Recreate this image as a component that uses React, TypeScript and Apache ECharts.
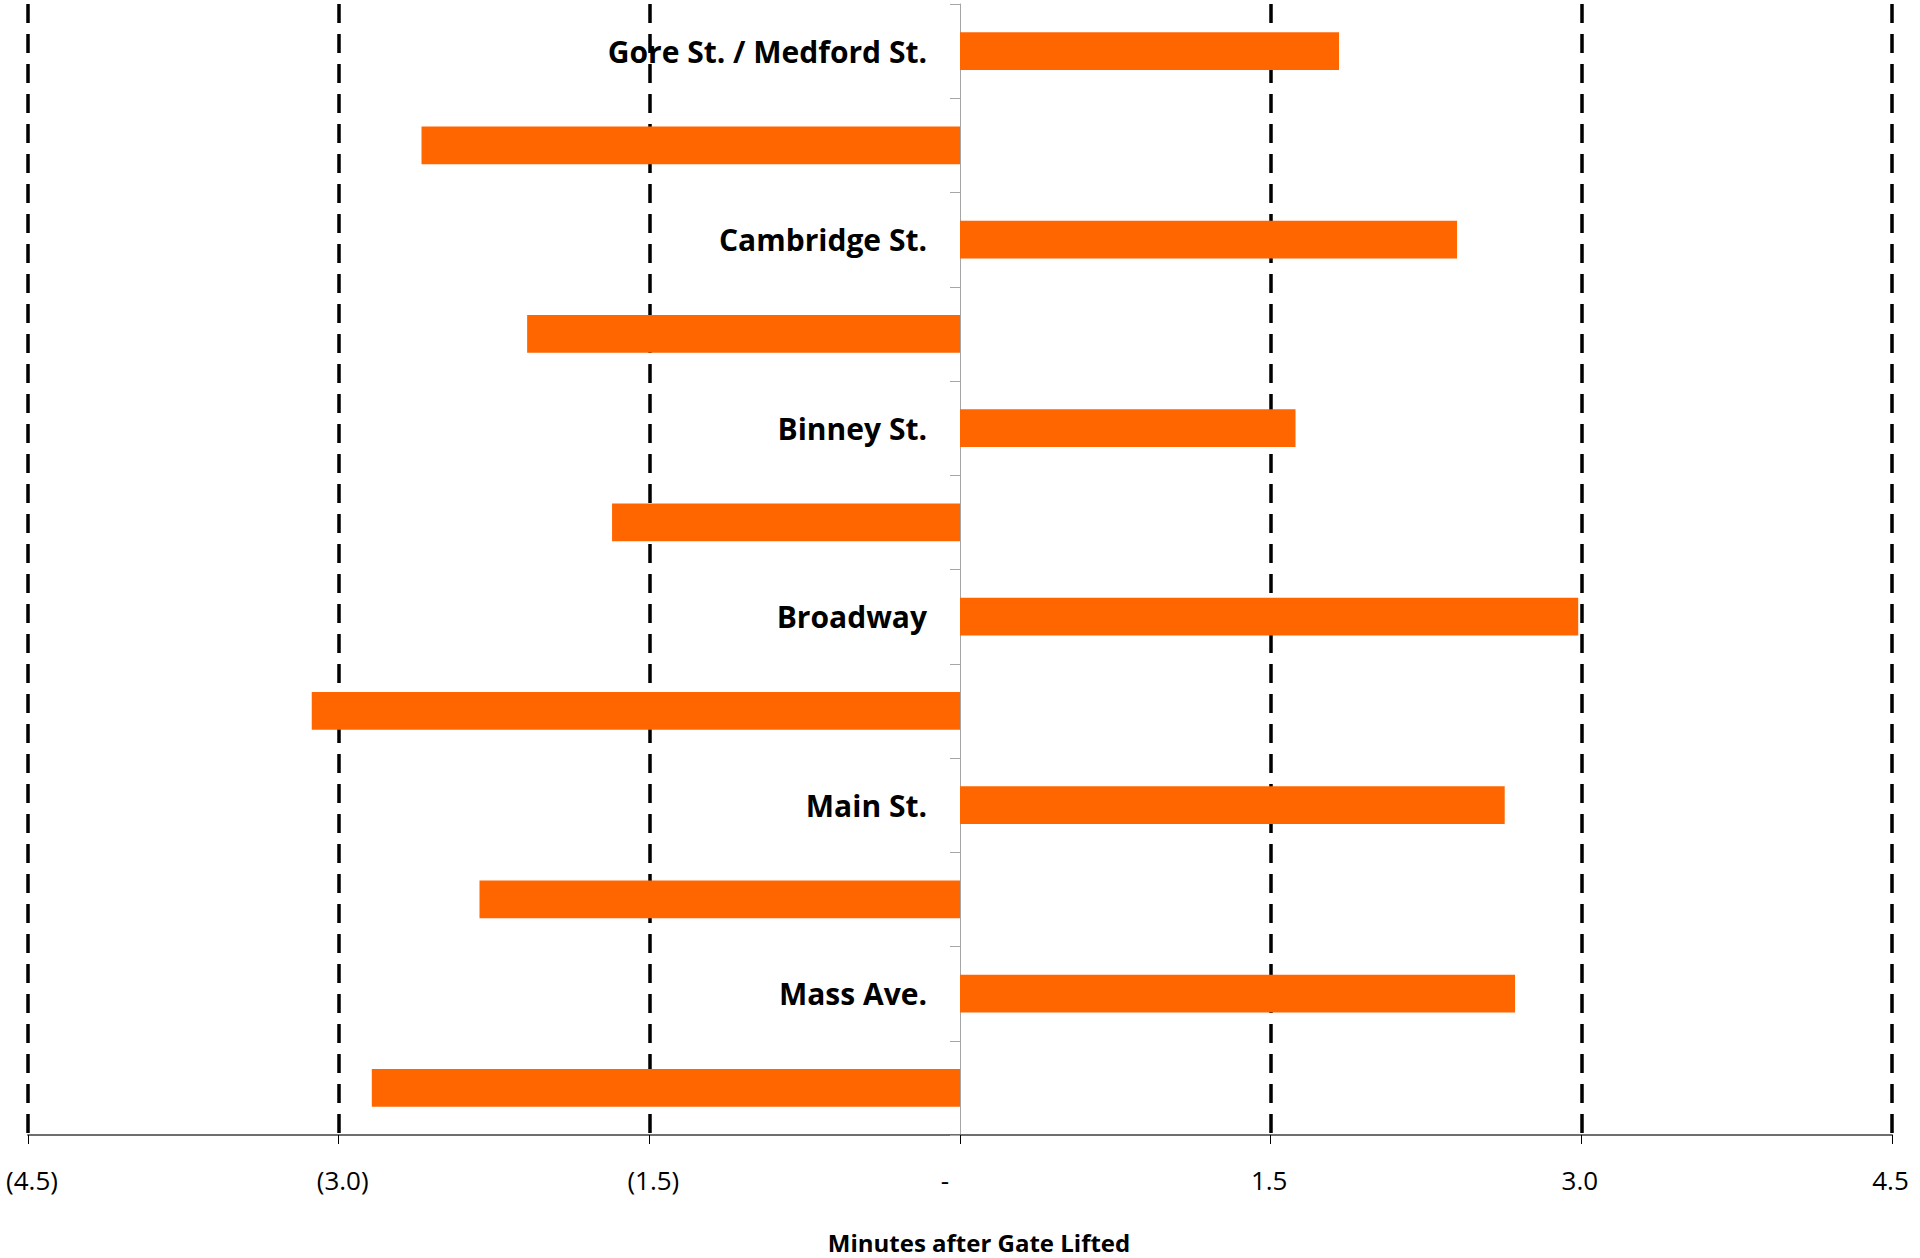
import React, { useEffect, useRef } from "react";
import * as echarts from "echarts";

const categories = [
  "Gore St. / Medford St.",
  "",
  "Cambridge St.",
  "",
  "Binney St.",
  "",
  "Broadway",
  "",
  "Main St.",
  "",
  "Mass Ave.",
  "",
];

const minutes = [1.83, -2.6, 2.4, -2.09, 1.62, -1.68, 2.985, -3.13, 2.63, -2.32, 2.68, -2.84];

const xTicks = [-4.5, -3, -1.5, 0, 1.5, 3, 4.5];
const xTickLabels = ["(4.5)", "(3.0)", "(1.5)", "-", "1.5", "3.0", "4.5"];
const gridLineValues = [-4.5, -3, -1.5, 1.5, 3, 4.5];

const axisTitle = "Minutes after Gate Lifted";

export default function App() {
  const ref = useRef<HTMLDivElement>(null);

  useEffect(() => {
    if (!ref.current) return;
    const chart = echarts.init(ref.current, null, { renderer: "svg" });
    const gridLeft = 28;
    const gridRight = 28;
    const plotWidth = 1920 - gridLeft - gridRight;
    chart.setOption({
      animation: false,
      backgroundColor: "#ffffff",
      grid: {
        left: gridLeft,
        right: gridRight,
        top: 4,
        bottom: 123,
        containLabel: false,
        outerBoundsMode: "none",
      },
      xAxis: {
        type: "value",
        min: -4.5,
        max: 4.5,
        interval: 1.5,
        name: axisTitle,
        nameLocation: "middle",
        nameGap: 95,
        nameTextStyle: {
          fontFamily: "Open Sans",
          fontWeight: "bold",
          fontSize: 24,
          color: "#000",
          padding: [0, 0, 0, 38],
        },
        axisLine: { show: true, lineStyle: { color: "#6e6e6e", width: 2 } },
        axisTick: { show: true, length: 9, lineStyle: { color: "#000", width: 1 } },
        axisLabel: {
          margin: 32,
          fontFamily: "Open Sans",
          fontSize: 26,
          color: "#000",
          formatter: (v: number) => {
            const i = xTicks.findIndex((t) => Math.abs(t - v) < 1e-6);
            if (i < 0) return "";
            const s = xTickLabels[i];
            if (v < 0) return "{neg|" + s + "}";
            if (v === 0) return "{zero|" + s + "}";
            return "{pos|" + s + "}";
          },
          rich: {
            neg: { fontFamily: "Open Sans", fontSize: 26, color: "#000", padding: [0, 0, 0, 8] },
            zero: { fontFamily: "Open Sans", fontSize: 26, color: "#000", padding: [0, 30, 0, 0] },
            pos: { fontFamily: "Open Sans", fontSize: 26, color: "#000", padding: [0, 3, 0, 0] },
          },
        },
        splitLine: { show: false },
      },
      yAxis: {
        type: "category",
        data: categories,
        inverse: true,
        offset: -plotWidth / 2,
        axisLine: { show: true, onZero: false, lineStyle: { color: "#a6a6a6", width: 1 } },
        axisTick: { show: true, length: 10, lineStyle: { color: "#a6a6a6", width: 1 } },
        axisLabel: {
          margin: 33,
          fontFamily: "Open Sans",
          fontWeight: "bold",
          fontSize: 30,
          color: "#000",
        },
        splitLine: { show: false },
      },
      series: [
        {
          type: "bar",
          data: minutes,
          barWidth: "40%",
          itemStyle: { color: "#ff6600" },
          z: 3,
          markLine: {
            z: 1,
            silent: true,
            symbol: "none",
            label: { show: false },
            lineStyle: { color: "#000", width: 3.5, type: [19, 11] },
            data: gridLineValues.map((v) => ({ xAxis: v })),
          },
        },
      ],
    });
    return () => chart.dispose();
  }, []);

  return (
    <div
      ref={ref}
      style={{ position: "absolute", left: 0, top: 0, width: 1920, height: 1258 }}
    />
  );
}
